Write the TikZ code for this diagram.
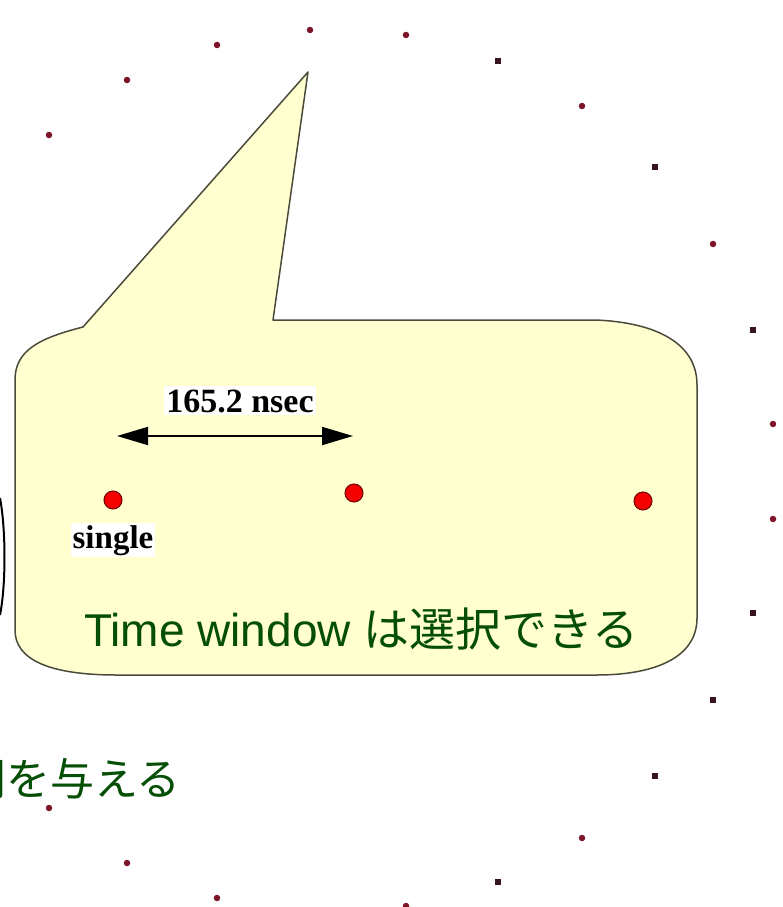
\documentclass[tikz,border=0pt]{standalone}
\usepackage{fontspec}
\setmainfont{Liberation Serif}
\newfontfamily\cjk{Noto Sans CJK JP}
\newfontfamily\arialf{Liberation Sans}
\usetikzlibrary{arrows.meta}
\definecolor{boxfill}{RGB}{255,255,208}
\definecolor{boxline}{RGB}{75,75,60}
\definecolor{txtgreen}{RGB}{5,78,5}
\definecolor{dotred}{RGB}{125,20,40}
\definecolor{sqdark}{RGB}{55,20,35}
\definecolor{bigred}{RGB}{245,0,0}
\definecolor{bigredline}{RGB}{110,0,0}
\begin{document}
\begin{tikzpicture}[x=1pt,y=-1pt,
  rdot/.style={circle,fill=dotred,inner sep=0pt,minimum size=6.5pt},
  sqdot/.style={rectangle,fill=sqdark,inner sep=0pt,minimum width=5.5pt,minimum height=6.5pt},
  bigdot/.style={circle,fill=bigred,draw=bigredline,line width=1pt,inner sep=0pt,minimum size=18pt},
  serlabel/.style={fill=white,inner xsep=2pt,inner ysep=3pt,font=\fontsize{34}{38}\selectfont\bfseries},
  greentext/.style={text=txtgreen,inner sep=0pt,font=\fontsize{44}{50}\selectfont}
]
\useasboundingbox (0,0) rectangle (783,907);
\clip (0,0) rectangle (783,907);
\fill[white] (0,0) rectangle (783,907);

% left arc (part of a large circle)
\draw[line width=2pt] (0,498) .. controls (6,530) and (6,585) .. (0,615);

% callout shape
\draw[fill=boxfill,draw=boxline,line width=1.5pt,line join=round]
  (15,630) -- (15,380)
  .. controls (15,350) and (40,338) .. (83,327)
  -- (308,72) -- (273,320) -- (595,320)
  .. controls (650,322) and (697,340) .. (697,385)
  -- (697,618)
  .. controls (697,660) and (650,675) .. (597,675)
  -- (117,675)
  .. controls (50,675) and (15,660) .. (15,630) -- cycle;

% ring of dots
\foreach \n/\x/\y in {r1/49/135, r2/127/80, r3/217/45, r4/310/30, r5/406/35, r6/582/106, r7/713/244, r8/773/424, r9/773/519, r10/582/838, r11/406/906, r12/49/808, r13/127/863, r14/217/898}
  \node[rdot] (\n) at (\x,\y) {};
\foreach \n/\x/\y in {s1/498/61, s2/655/167, s3/753/330, s4/753/613, s5/713/700, s6/655/776, s7/498/882}
  \node[sqdot] (\n) at (\x,\y) {};

% interval label and arrow
\node[serlabel,anchor=base] (lab) at (240,412) {165.2 nsec};
\coordinate (aL) at (117,436);
\coordinate (aR) at (353,436);
\draw[line width=1.8pt,{Triangle[length=31pt,width=18pt]}-{Triangle[length=31pt,width=18pt]}] (aL) -- (aR);

% red events
\node[bigdot] (e1) at (113,500) {};
\node[bigdot] (e2) at (354,493) {};
\node[bigdot] (e3) at (643,501) {};
\node[serlabel,anchor=base,font=\fontsize{33}{36}\selectfont\bfseries,inner ysep=2pt] (single) at (113,548) {single};

% green texts
\node[greentext,anchor=base west,font=\fontsize{46}{52}\selectfont] (tw) at (84,646) {\arialf Time window \cjk は選択できる};
\node[greentext,anchor=base west] (give) at (-38,795) {\cjk 間を与える};
\end{tikzpicture}
\end{document}
